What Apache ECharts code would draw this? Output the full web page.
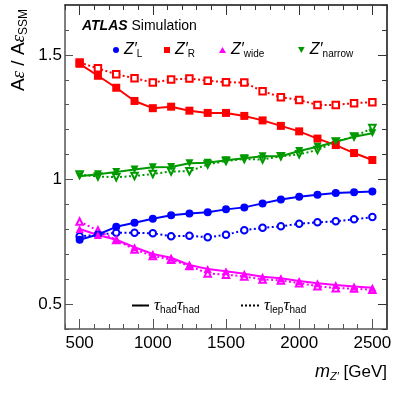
<!DOCTYPE html>
<html>
<head>
<meta charset="utf-8">
<script src="https://cdn.jsdelivr.net/npm/echarts@6/dist/echarts.min.js"></script>
<style>html,body{margin:0;padding:0;background:#fff}#c{width:407px;height:393px}</style>
</head>
<body>
<div id="c"></div>
<script>
const mass = [500,625,750,875,1000,1125,1250,1375,1500,1625,1750,1875,2000,2125,2250,2375,2500];
const zL_hh = [0.758,0.779,0.810,0.826,0.842,0.856,0.863,0.868,0.880,0.888,0.904,0.920,0.931,0.939,0.946,0.949,0.952];
const zL_lh = [0.772,0.778,0.786,0.786,0.784,0.772,0.774,0.768,0.778,0.796,0.806,0.812,0.822,0.828,0.832,0.840,0.849];
const zR_hh = [1.464,1.416,1.368,1.315,1.286,1.292,1.276,1.267,1.267,1.255,1.237,1.215,1.193,1.164,1.138,1.106,1.078];
const zR_lh = [1.469,1.446,1.422,1.406,1.389,1.401,1.405,1.396,1.390,1.389,1.354,1.330,1.319,1.299,1.299,1.306,1.310];
const zW_hh = [0.801,0.777,0.758,0.728,0.701,0.686,0.657,0.641,0.632,0.622,0.610,0.604,0.593,0.584,0.577,0.571,0.566];
const zW_lh = [0.831,0.795,0.757,0.719,0.693,0.678,0.653,0.623,0.618,0.611,0.599,0.595,0.584,0.572,0.564,0.562,0.557];
const zN_hh = [1.013,1.021,1.030,1.040,1.049,1.050,1.065,1.067,1.077,1.085,1.093,1.093,1.114,1.131,1.151,1.171,1.185];
const zN_lh = [1.020,1.012,1.009,1.014,1.022,1.032,1.033,1.060,1.074,1.082,1.080,1.093,1.101,1.118,1.152,1.172,1.206];
const xTicks = [500,1000,1500,2000,2500];
const yTicks = [0.5,1,1.5];

const F = 'Liberation Sans, Arial, sans-serif';
const FS = 'Liberation Serif, serif';
const C = {L:'#0000ff', R:'#ff0000', W:'#ff00ff', N:'#009a00'};

function pts(a){ return mass.map((m,i)=>[m,a[i]]); }
function solid(name, arr, color, symbol, rot){
  return {type:'line', name:name, data:pts(arr), symbol:symbol, symbolSize:8, symbolRotate:rot||0,
    lineStyle:{color:color,width:2}, itemStyle:{color:color}, z:3, animation:false};
}
function dotted(name, arr, color, symbol, rot){
  return {type:'line', name:name, data:pts(arr), symbol:symbol, symbolSize:6.5, symbolRotate:rot||0,
    lineStyle:{color:color,width:2,type:[2,2.5]}, itemStyle:{color:color,borderWidth:1}, z:2, animation:false};
}

const sub = {fontSize:10, fontFamily:F, padding:[9,0,0,0]};
function zleg(s){ return '{z|Z′}{s|'+s+'}'; }
const legRich = {z:{fontSize:16, fontStyle:'italic', fontFamily:F}, s:sub};

function legend(name, icon, w, h, left, top){
  return {show:true, left:left, top:top, data:[{name:name, icon:icon}], itemWidth:w, itemHeight:h,
    selectedMode:false, formatter:function(n){return legFmt[n];}, textStyle:{rich:legRich, color:'#000'}};
}
const legFmt = {
  'ZL': zleg('L'), 'ZR': zleg('R'), 'Zwide': zleg('wide'), 'Znarrow': zleg('narrow'),
  'hh': '{t|τ}{s|had}{t|τ}{s|had}', 'lh': '{t|τ}{s|lep}{t|τ}{s|had}'
};
const tauRich = {t:{fontSize:17, fontStyle:'italic', fontFamily:FS}, s:sub};

const chart = echarts.init(document.getElementById('c'), null, {renderer:'canvas'});
const xBase = {type:'value', min:400, max:2600, splitLine:{show:false}};
const yBase = {type:'value', min:0.4, max:1.7, splitLine:{show:false}};
chart.setOption({
  animation:false,
  backgroundColor:'#fff',
  grid:{left:65, right:20, top:5, bottom:64},
  xAxis:[
    Object.assign({}, xBase, {position:'bottom',
      axisLine:{show:true, onZero:false, lineStyle:{color:'#555', width:1.5}},
      axisTick:{show:true, inside:true, length:10, customValues:xTicks, lineStyle:{color:'#555'}},
      axisLabel:{show:true, customValues:xTicks, formatter:function(v){return String(v);}, fontSize:17, color:'#000', fontFamily:F, margin:6}}),
    Object.assign({}, xBase, {position:'bottom', interval:100,
      axisLine:{show:false}, axisTick:{show:true, inside:true, length:5, lineStyle:{color:'#555'}}, axisLabel:{show:false}}),
    Object.assign({}, xBase, {position:'top',
      axisLine:{show:true, onZero:false, lineStyle:{color:'#111', width:1.5}},
      axisTick:{show:true, inside:true, length:10, customValues:xTicks, lineStyle:{color:'#333'}},
      axisLabel:{show:false}}),
    Object.assign({}, xBase, {position:'top', interval:100,
      axisLine:{show:false}, axisTick:{show:true, inside:true, length:5, lineStyle:{color:'#333'}}, axisLabel:{show:false}})
  ],
  yAxis:[
    Object.assign({}, yBase, {position:'left',
      axisLine:{show:true, onZero:false, lineStyle:{color:'#555', width:1.5}},
      axisTick:{show:true, inside:true, length:8, customValues:yTicks, lineStyle:{color:'#555'}},
      axisLabel:{show:true, customValues:yTicks, formatter:function(v){return String(v);}, fontSize:17, color:'#000', fontFamily:F, margin:3}}),
    Object.assign({}, yBase, {position:'left', interval:0.1,
      axisLine:{show:false}, axisTick:{show:true, inside:true, length:4, lineStyle:{color:'#555'}}, axisLabel:{show:false}}),
    Object.assign({}, yBase, {position:'right',
      axisLine:{show:true, onZero:false, lineStyle:{color:'#111', width:1.5}},
      axisTick:{show:true, inside:true, length:9, customValues:yTicks, lineStyle:{color:'#333'}},
      axisLabel:{show:false}}),
    Object.assign({}, yBase, {position:'right', interval:0.1,
      axisLine:{show:false}, axisTick:{show:true, inside:true, length:5, lineStyle:{color:'#333'}}, axisLabel:{show:false}})
  ],
  legend:[
    legend('ZL','circle',6,6,108,37),
    legend('ZR','rect',6,6,159,37),
    legend('Zwide','triangle',7,6,214,37),
    legend('Znarrow','path://M0,0 L10,0 L5,9 Z',7,6,293,37),
    Object.assign(legend('hh','',17,2,126,292), {textStyle:{rich:tauRich,color:'#000'}}),
    Object.assign(legend('lh','',18,2,235,292), {textStyle:{rich:tauRich,color:'#000'}})
  ],
  series:[
    solid('ZL', zL_hh, C.L, 'circle'),
    dotted('ZL lh', zL_lh, C.L, 'emptyCircle'),
    solid('ZR', zR_hh, C.R, 'rect'),
    dotted('ZR lh', zR_lh, C.R, 'emptyRect'),
    solid('Zwide', zW_hh, C.W, 'triangle'),
    dotted('Zwide lh', zW_lh, C.W, 'emptyTriangle'),
    solid('Znarrow', zN_hh, C.N, 'triangle', 180),
    dotted('Znarrow lh', zN_lh, C.N, 'emptyTriangle', 180),
    {type:'line', name:'hh', data:[], symbol:'none', lineStyle:{color:'#000', width:2}, itemStyle:{color:'#000'}},
    {type:'line', name:'lh', data:[], symbol:'none', lineStyle:{color:'#000', width:2, type:[2,2]}, itemStyle:{color:'#000'}}
  ],
  graphic:[
    {type:'text', left:82, top:19, style:{text:'{b|ATLAS}{n| Simulation}', rich:{
      b:{fontSize:14, fontWeight:'bold', fontStyle:'italic', fontFamily:F},
      n:{fontSize:14, fontFamily:F}}, fill:'#000'}},
    {type:'text', x:19, y:50, rotation:Math.PI/2, style:{text:'{a|A}{e|ε}{a| / A}{e|ε}{s|SSM}', align:'center', verticalAlign:'middle', rich:{
      a:{fontSize:19, fontFamily:F}, e:{fontSize:19, fontStyle:'italic', fontFamily:FS},
      s:{fontSize:12, fontFamily:F, padding:[10,0,0,0]}}, fill:'#000'}},
    {type:'text', x:387, y:372, style:{text:'{m|m}{s|Z′}{n| [GeV]}', align:'right', verticalAlign:'middle', rich:{
      m:{fontSize:18, fontStyle:'italic', fontFamily:F}, s:{fontSize:11, fontStyle:'italic', fontFamily:F, padding:[9,0,0,0]},
      n:{fontSize:17, fontFamily:F}}, fill:'#000'}}
  ]
});
</script>
</body>
</html>
